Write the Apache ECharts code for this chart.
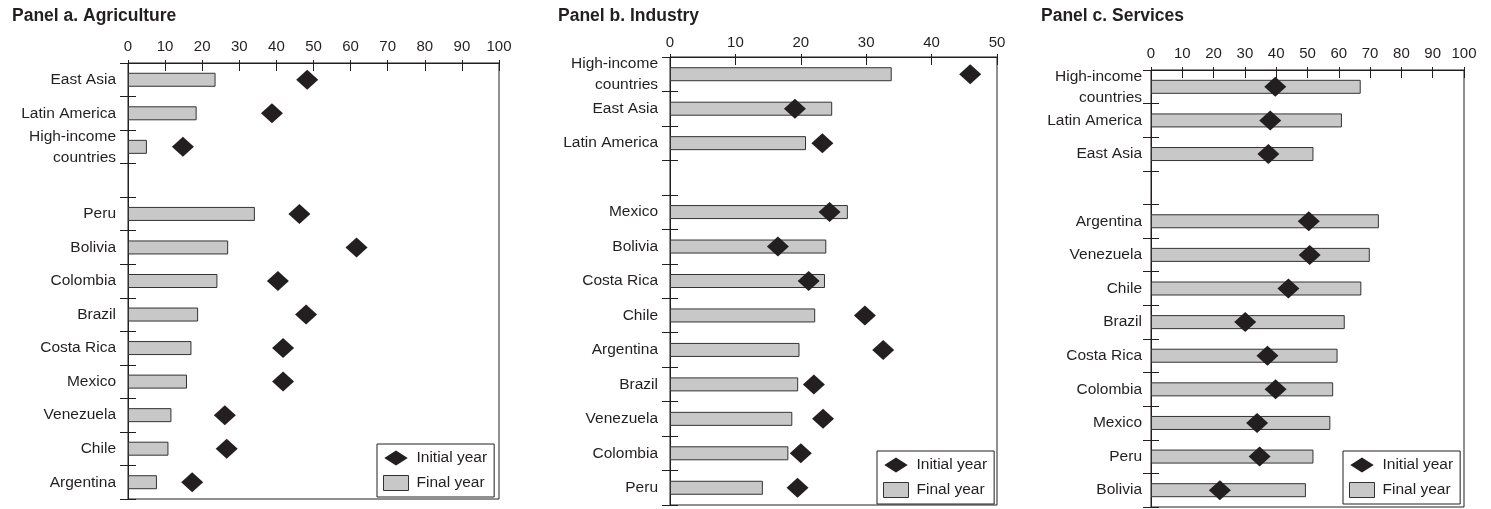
<!DOCTYPE html>
<html>
<head>
<meta charset="utf-8">
<script src="https://cdn.jsdelivr.net/npm/echarts@6/dist/echarts.min.js"></script>
<style>
  html, body { margin: 0; padding: 0; background: #fff; }
  #chart { width: 1491px; height: 509px; }
</style>
</head>
<body>
<div id="chart"></div>
<script>
// Sector shares (%), initial vs final year
const titles = ['Panel a. Agriculture', 'Panel b. Industry', 'Panel c. Services'];

const categoriesA = ['East Asia', 'Latin America', 'High-income\ncountries', '', 'Peru', 'Bolivia', 'Colombia', 'Brazil', 'Costa Rica', 'Mexico', 'Venezuela', 'Chile', 'Argentina'];
const finalA   = [23.6, 18.5, 5.1, null, 34.2, 27.0, 24.1, 18.9, 17.1, 15.9, 11.7, 10.9, 7.8];
const initialA = [48.3, 38.8, 14.8, null, 46.2, 61.6, 40.4, 48.0, 41.8, 41.8, 26.1, 26.6, 17.3];

const categoriesB = ['High-income\ncountries', 'East Asia', 'Latin America', '', 'Mexico', 'Bolivia', 'Costa Rica', 'Chile', 'Argentina', 'Brazil', 'Venezuela', 'Colombia', 'Peru'];
const finalB   = [33.9, 24.8, 20.8, null, 27.2, 23.9, 23.7, 22.2, 19.8, 19.6, 18.7, 18.1, 14.2];
const initialB = [45.9, 19.1, 23.3, null, 24.4, 16.5, 21.2, 29.8, 32.6, 22.0, 23.4, 20.0, 19.5];

const categoriesC = ['High-income\ncountries', 'Latin America', 'East Asia', '', 'Argentina', 'Venezuela', 'Chile', 'Brazil', 'Costa Rica', 'Colombia', 'Mexico', 'Peru', 'Bolivia'];
const finalC   = [67.0, 61.0, 51.9, null, 72.8, 69.9, 67.2, 61.9, 59.6, 58.2, 57.3, 51.9, 49.5];
const initialC = [39.7, 38.1, 37.5, null, 50.4, 50.7, 43.9, 30.1, 37.2, 39.8, 33.9, 34.7, 22.0];

const axisMaxA = 100, axisMaxB = 50, axisMaxC = 100;
const tickStep = 10;

const INK = '#231f20';
const BAR_FILL = '#c8c8c8';
const FONT = 'Liberation Sans, Arial, Helvetica, sans-serif';

// layout of each panel: plot box, title anchor, legend anchor, label margins
const panels = [
  { cats: categoriesA, fin: finalA, ini: initialA, max: axisMaxA,
    grid: { left: 128, top: 63, width: 371, height: 436 },
    title: { left: 7, top: 2 }, legend: { left: 377, top: 444 },
    xMargin: 9, yMargin: 12 },
  { cats: categoriesB, fin: finalB, ini: initialB, max: axisMaxB,
    grid: { left: 670, top: 57, width: 327, height: 448 },
    title: { left: 553, top: 2 }, legend: { left: 877, top: 451 },
    xMargin: 7, yMargin: 12 },
  { cats: categoriesC, fin: finalC, ini: initialC, max: axisMaxC,
    grid: { left: 1151, top: 70, width: 313, height: 437 },
    title: { left: 1036, top: 2 }, legend: { left: 1343, top: 451 },
    xMargin: 9, yMargin: 9 }
];

const diamondIcon = 'path://M0,8L12.5,0L25,8L12.5,16Z';

const option = {
  animation: false,
  backgroundColor: '#fff',
  textStyle: { fontFamily: FONT },
  title: [], grid: [], xAxis: [], yAxis: [], series: [], legend: []
};

panels.forEach((p, i) => {
  option.title.push({
    text: titles[i], left: p.title.left, top: p.title.top,
    textStyle: { fontFamily: FONT, fontSize: 17.5, fontWeight: 'bold', color: INK }
  });
  option.grid.push(Object.assign({
    show: true, borderColor: INK, borderWidth: 1, backgroundColor: 'transparent',
    containLabel: false
  }, p.grid));

  // value axis along the top: labels + short outward ticks
  option.xAxis.push({
    type: 'value', gridIndex: i, position: 'top', min: 0, max: p.max, interval: tickStep,
    axisLine: { show: true, lineStyle: { color: INK, width: 1 } },
    axisTick: { show: true, length: 3, lineStyle: { color: INK, width: 1 } },
    axisLabel: { show: true, margin: p.xMargin, fontSize: 15, color: INK, fontFamily: FONT },
    splitLine: { show: false }
  });
  // companion axis for the inward half of each tick
  option.xAxis.push({
    type: 'value', gridIndex: i, position: 'top', min: 0, max: p.max, interval: tickStep,
    axisLine: { show: false },
    axisTick: { show: true, inside: true, length: 8, lineStyle: { color: INK, width: 1 } },
    axisLabel: { show: false }, splitLine: { show: false }
  });

  // category axis with labels and outward boundary ticks
  option.yAxis.push({
    type: 'category', gridIndex: i, position: 'left', data: p.cats, inverse: true, boundaryGap: true,
    axisLine: { show: true, lineStyle: { color: INK, width: 1 } },
    axisTick: { show: true, length: 8, lineStyle: { color: INK, width: 1 } },
    axisLabel: { show: true, margin: p.yMargin, fontSize: 15.5, lineHeight: 21, color: INK, fontFamily: FONT, interval: 0 },
    splitLine: { show: false }
  });
  // companion axis for the inward half of each boundary tick
  option.yAxis.push({
    type: 'category', gridIndex: i, position: 'left', data: p.cats, inverse: true, boundaryGap: true,
    axisLine: { show: false },
    axisTick: { show: true, inside: true, length: 8, lineStyle: { color: INK, width: 1 } },
    axisLabel: { show: false }, splitLine: { show: false }
  });

  option.series.push({
    name: 'Final year', type: 'bar', xAxisIndex: i * 2, yAxisIndex: i * 2,
    data: p.fin, barWidth: 14,
    itemStyle: { color: BAR_FILL, borderColor: '#333', borderWidth: 1 },
    z: 2
  });
  option.series.push({
    name: 'Initial year', type: 'scatter', xAxisIndex: i * 2, yAxisIndex: i * 2,
    data: p.ini, symbol: 'diamond', symbolSize: [22, 20],
    itemStyle: { color: INK, opacity: 1 },
    z: 5
  });

  option.legend.push({
    orient: 'vertical', left: p.legend.left, top: p.legend.top,
    data: [
      { name: 'Initial year', icon: diamondIcon, itemStyle: { color: INK, borderWidth: 0 } },
      { name: 'Final year', icon: 'rect', itemStyle: { color: BAR_FILL, borderColor: '#333', borderWidth: 1 } }
    ],
    itemWidth: 25, itemHeight: 15, itemGap: 9,
    padding: [6, 7, 6, 6],
    borderColor: INK, borderWidth: 1, backgroundColor: '#fff',
    selectedMode: false,
    textStyle: { fontFamily: FONT, fontSize: 15.5, color: INK, padding: [0, 0, 0, 3] }
  });
});

const chart = echarts.init(document.getElementById('chart'), null, { renderer: 'canvas' });
chart.setOption(option);
</script>
</body>
</html>
